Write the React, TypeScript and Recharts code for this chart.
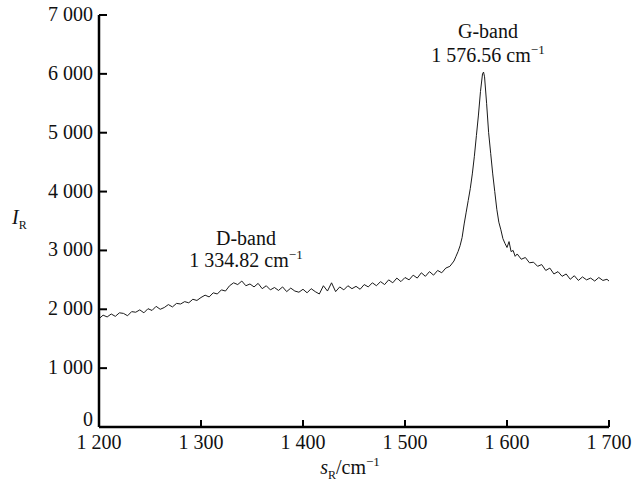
import { LineChart, Line, XAxis, YAxis } from 'recharts';

// Raman shift (cm^-1) and intensity
const shift = [
  1200, 1204, 1208, 1212, 1216, 1220, 1224, 1228, 1232, 1236, 1240, 1244, 1248, 1252, 1256, 1260,
  1264, 1268, 1272, 1276, 1280, 1284, 1288, 1292, 1296, 1300, 1304, 1308, 1312, 1316, 1320, 1324,
  1328, 1332, 1336, 1340, 1344, 1348, 1352, 1356, 1360, 1364, 1368, 1372, 1376, 1380, 1384, 1388,
  1392, 1396, 1400, 1404, 1408, 1412, 1416, 1420, 1424, 1428, 1432, 1436, 1440, 1444, 1448, 1452,
  1456, 1460, 1464, 1468, 1472, 1476, 1480, 1484, 1488, 1492, 1496, 1500, 1504, 1508, 1512, 1516,
  1520, 1524, 1528, 1532, 1536, 1540, 1544, 1548, 1550, 1552, 1554, 1556, 1558, 1560, 1562, 1564,
  1566, 1568, 1570, 1572, 1574, 1576, 1577, 1578, 1580, 1582, 1584, 1586, 1588, 1590, 1592, 1594,
  1596, 1598, 1600, 1602, 1604, 1606, 1608, 1610, 1614, 1618, 1622, 1626, 1630, 1634, 1638, 1642,
  1646, 1650, 1654, 1658, 1662, 1666, 1670, 1674, 1678, 1682, 1686, 1690, 1694, 1698, 1700,
];
const intensity = [
  1840, 1900, 1870, 1920, 1880, 1940, 1930, 1890, 1960, 1950, 1990, 1940, 2010, 1980, 2050, 2000,
  2030, 2080, 2040, 2100, 2090, 2130, 2110, 2170, 2150, 2200, 2240, 2210, 2280, 2260, 2330, 2310,
  2400, 2450, 2420, 2480, 2400, 2430, 2380, 2440, 2350, 2400, 2330, 2370, 2320, 2380, 2300, 2360,
  2310, 2290, 2340, 2280, 2350, 2300, 2260, 2400, 2310, 2450, 2300, 2380, 2330, 2400, 2350, 2390,
  2340, 2420, 2380, 2450, 2400, 2470, 2420, 2500, 2450, 2530, 2470, 2540, 2500, 2580, 2530, 2620,
  2560, 2640, 2580, 2660, 2620, 2700, 2730, 2820, 2900, 2980, 3080, 3220, 3450, 3650, 3850, 4050,
  4300, 4600, 4950, 5300, 5700, 6000, 6030, 5950, 5500, 5000, 4650, 4300, 4000, 3700, 3480, 3350,
  3200, 3120, 3050, 3150, 2980, 3000, 2900, 2940, 2850, 2880, 2790, 2800, 2730, 2760, 2660, 2700,
  2600, 2640, 2560, 2600, 2510, 2570, 2490, 2550, 2500, 2530, 2480, 2540, 2490, 2510, 2480,
];

const xTicks = [1200, 1300, 1400, 1500, 1600, 1700];
const yTicks = [0, 1000, 2000, 3000, 4000, 5000, 6000, 7000];

const data = shift.map((s, i) => ({ s, v: intensity[i] }));

const css = `
.raman, .raman svg, .raman text, .raman tspan { font-family: "Liberation Serif" !important; }
`;
const fmt = (v: number) => (v >= 1000 ? `${Math.floor(v / 1000)} ${String(v % 1000).padStart(3, '0')}` : `${v}`);

const YTick = ({ x, y, payload }: any) => (
  <g>
    <line x1={x} x2={x + 8} y1={y} y2={y} stroke="#000" strokeWidth={2} />
    <text x={x - 6} y={y} dy={payload.value === 0 ? -1 : 6} textAnchor="end" fontSize={20} fill="#111">
      {fmt(payload.value)}
    </text>
  </g>
);

const XTick = ({ x, y, payload }: any) => (
  <g>
    <line x1={x} x2={x} y1={y} y2={y - 7} stroke="#000" strokeWidth={2} />
    <text x={x} y={y + 22} textAnchor="middle" fontSize={20} fill="#111">
      {fmt(payload.value)}
    </text>
  </g>
);

export default function App() {
  return (
    <div className="raman" style={{ position: 'absolute', left: 0, top: 0, width: 637, height: 484, background: '#fff' }}>
      <style>{css}</style>
      <LineChart width={637} height={484} data={data} margin={{ top: 15, right: 28, bottom: 0, left: 0 }}>
        <XAxis
          dataKey="s"
          type="number"
          domain={[1200, 1700]}
          ticks={xTicks}
          tick={<XTick />}
          tickLine={false}
          tickSize={0}
          tickMargin={0}
          height={57}
          axisLine={{ stroke: '#000', strokeWidth: 2.5 }}
          interval={0}
        />
        <YAxis
          type="number"
          domain={[0, 7000]}
          ticks={yTicks}
          tick={<YTick />}
          tickLine={false}
          tickSize={0}
          tickMargin={0}
          width={99}
          axisLine={{ stroke: '#000', strokeWidth: 2.5 }}
          interval={0}
        />
        <Line
          dataKey="v"
          type="linear"
          stroke="#1a1a1a"
          strokeWidth={1}
          dot={false}
          isAnimationActive={false}
        />
      </LineChart>
      <svg width={637} height={484} style={{ position: 'absolute', left: 0, top: 0, pointerEvents: 'none' }}>
        <g fontSize={20} fill="#111">
          <text x={246} y={245} textAnchor="middle">D-band</text>
          <text x={246} y={267} textAnchor="middle">
            1 334.82 cm<tspan fontSize={13} dy={-8}>−1</tspan>
          </text>
          <text x={488} y={38} textAnchor="middle">G-band</text>
          <text x={488} y={62} textAnchor="middle">
            1 576.56 cm<tspan fontSize={13} dy={-8}>−1</tspan>
          </text>
          <text x={12} y={224}>
            <tspan fontStyle="italic">I</tspan>
            <tspan fontSize={12} dy={5}>R</tspan>
          </text>
          <text x={350} y={474} textAnchor="middle">
            <tspan fontStyle="italic">s</tspan>
            <tspan fontSize={12} dy={5}>R</tspan>
            <tspan dy={-5}>/cm</tspan>
            <tspan fontSize={13} dy={-8}>−1</tspan>
          </text>
        </g>
      </svg>
    </div>
  );
}
